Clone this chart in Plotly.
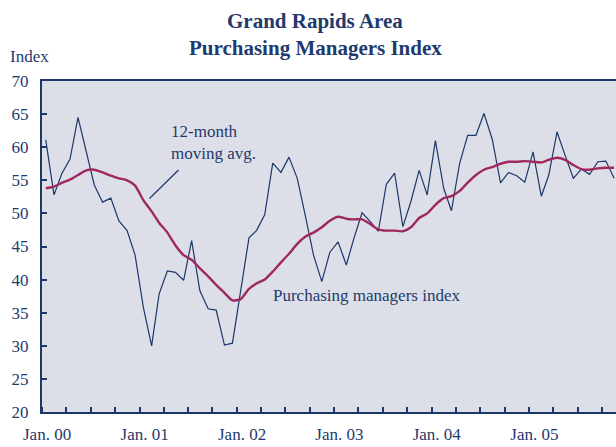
import plotly.graph_objects as go

# ---- data ----
months = [f"{y}-{m:02d}-15" for y in range(2000, 2006) for m in range(1, 13)][:71]

pmi = [61.1, 52.8, 56.0, 58.2, 64.5, 59.5, 54.3, 51.7, 52.3, 48.9, 47.4, 43.7,
       35.8, 30.0, 37.8, 41.3, 41.1, 39.9, 45.9, 38.3, 35.6, 35.4, 30.1, 30.4,
       38.5, 46.3, 47.4, 49.8, 57.6, 56.2, 58.5, 55.3, 49.5, 43.7, 39.7, 44.1,
       45.7, 42.2, 46.2, 50.1, 48.8, 47.3, 54.4, 56.1, 48.0, 51.8, 56.5, 52.8,
       61.0, 53.8, 50.4, 57.6, 61.8, 61.8, 65.1, 61.2, 54.6, 56.2, 55.7, 54.7,
       59.3, 52.6, 55.8, 62.3, 58.8, 55.3, 56.7, 55.9, 57.8, 57.9, 55.3]

mavg = [53.8, 54.05, 54.6, 55.1, 55.8, 56.5, 56.6, 56.2, 55.7, 55.3, 55.0, 54.2,
        52.0, 50.3, 48.6, 47.1, 45.2, 43.7, 43.0, 41.7, 40.5, 39.2, 38.0, 36.85,
        37.05, 38.6, 39.4, 40.0, 41.2, 42.6, 43.9, 45.4, 46.5, 47.1, 47.9, 48.9,
        49.5, 49.2, 49.1, 49.1, 48.4, 47.6, 47.4, 47.4, 47.3, 47.9, 49.3, 50.0,
        51.3, 52.3, 52.6, 53.4, 54.65, 55.8, 56.6, 57.0, 57.5, 57.8, 57.8, 57.9,
        57.8, 57.7, 58.1, 58.4, 58.1, 57.3, 56.7, 56.6, 56.8, 56.9, 56.9]

year_tick_vals = [f"{y}-01-20" for y in range(2000, 2006)]
year_tick_text = ["Jan. 00", "Jan. 01", "Jan. 02", "Jan. 03", "Jan. 04", "Jan. 05"]
y_ticks = [20, 25, 30, 35, 40, 45, 50, 55, 60, 65, 70]

# ---- styling ----
NAVY = "#1c3768"
TEXT = "#1f3a6c"
MAROON = "#a02860"
BG = "#dcdfe8"
FONT = "Liberation Serif"

W, H = 616, 447
L, R, T, B = 42, 0, 81, 35


def px(x):
    return (x - L) / (W - L - R)


def py(y):
    return (H - B - y) / (H - T - B)


fig = go.Figure()
fig.add_trace(go.Scatter(x=months, y=pmi, mode="lines",
                         line=dict(color=NAVY, width=1.2), hoverinfo="skip"))
fig.add_trace(go.Scatter(x=months, y=mavg, mode="lines",
                         line=dict(color=MAROON, width=2.4, shape="spline", smoothing=0.6),
                         hoverinfo="skip"))

fig.update_layout(
    width=W, height=H,
    margin=dict(l=L, r=R, t=T, b=B, pad=0, autoexpand=False),
    paper_bgcolor="white",
    plot_bgcolor=BG,
    showlegend=False,
    font=dict(family=FONT, color=TEXT, size=17),
)

fig.update_xaxes(
    type="date", automargin=False,
    range=["2000-01-01", "2005-11-22"],
    tickmode="array", tickvals=year_tick_vals, ticktext=year_tick_text,
    ticks="", ticklabelstandoff=6,
    tickfont=dict(family=FONT, size=17, color=TEXT),
    showgrid=False, zeroline=False,
    showline=True, linecolor=NAVY, linewidth=2, mirror=True,
    minor=dict(ticks="inside", tick0="2000-01-01", dtick="M3", ticklen=5,
               tickwidth=1.5, tickcolor=NAVY, showgrid=False),
)
fig.update_yaxes(
    range=[20, 70], automargin=False,
    tickmode="array", tickvals=y_ticks,
    ticks="inside", ticklen=5, tickwidth=1.5, tickcolor=NAVY,
    ticklabelstandoff=8,
    tickfont=dict(family=FONT, size=17, color=TEXT),
    showgrid=False, zeroline=False,
    showline=True, linecolor=NAVY, linewidth=2, mirror=False,
)

# title (two lines)
fig.add_annotation(text="<b>Grand Rapids Area</b>", xref="paper", yref="paper",
                   x=px(315), y=py(21), xanchor="center", yanchor="middle",
                   showarrow=False, font=dict(family=FONT, size=21, color=TEXT))
fig.add_annotation(text="<b>Purchasing Managers Index</b>", xref="paper", yref="paper",
                   x=px(315), y=py(48), xanchor="center", yanchor="middle",
                   showarrow=False, font=dict(family=FONT, size=21, color=TEXT))

# axis unit label
fig.add_annotation(text="Index", xref="paper", yref="paper", x=px(8), y=py(57),
                   xanchor="left", yanchor="middle", showarrow=False,
                   font=dict(family=FONT, size=17, color=TEXT))

# series labels
fig.add_annotation(text="12-month<br>moving avg.", xref="paper", yref="paper",
                   x=px(169), y=py(142), xanchor="left", yanchor="middle", align="left",
                   showarrow=False, font=dict(family=FONT, size=17, color=TEXT))
fig.add_annotation(text="Purchasing managers index", xref="paper", yref="paper",
                   x=px(271), y=py(295), xanchor="left", yanchor="middle",
                   showarrow=False, font=dict(family=FONT, size=17, color=TEXT))

# pointer line
fig.add_shape(type="line", xref="paper", yref="paper",
              x0=px(178.5), y0=py(170), x1=px(149.5), y1=py(198.5),
              line=dict(color=NAVY, width=1.2))

fig.write_html("out.html",
               config={"displayModeBar": False},
               post_script="document.body.style.margin='0';document.body.style.overflow='hidden';")
